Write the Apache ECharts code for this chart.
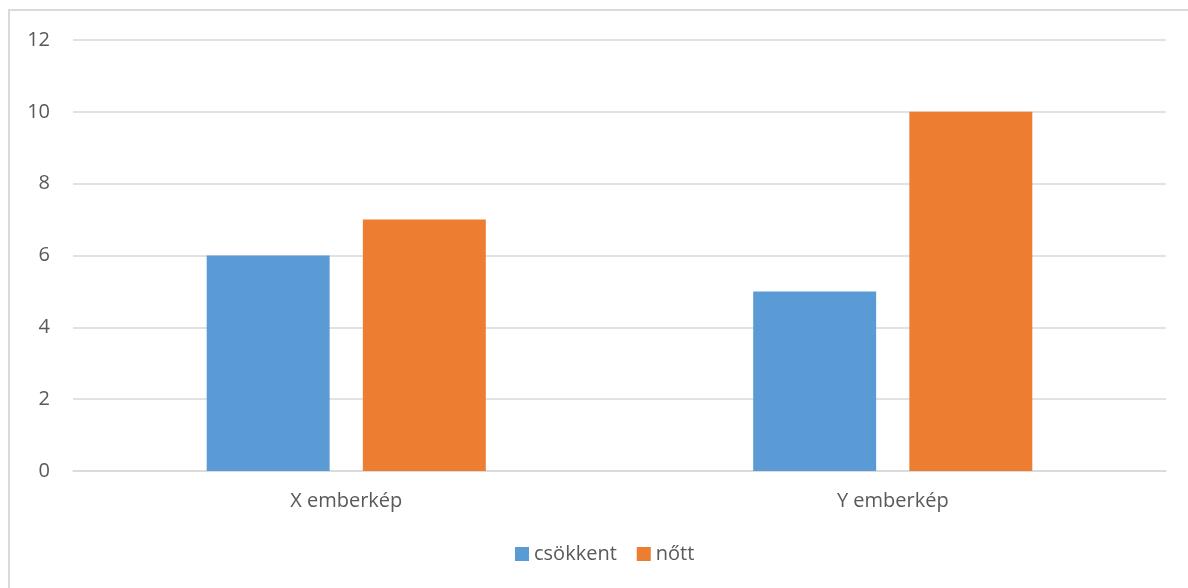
<!DOCTYPE html>
<html><head><meta charset="utf-8">
<script src="https://cdn.jsdelivr.net/npm/echarts@6/dist/echarts.min.js"></script>
<style>html,body{margin:0;padding:0;background:#fff;}#c{width:1188px;height:588px;}
#frame{position:absolute;left:8px;top:9px;width:1200px;height:600px;border-left:2px solid #d9d9d9;border-top:2px solid #d9d9d9;pointer-events:none;}</style>
</head><body><div id="c"></div><div id="frame"></div>
<script>
const categories = ['X emberkép', 'Y emberkép'];
const seriesNames = ['csökkent', 'nőtt'];
const csokkent = [6, 5];
const nott = [7, 10];
const yTicks = {min: 0, max: 12, interval: 2};

const font = '"Open Sans", sans-serif';
const fs = 20;
const chart = echarts.init(document.getElementById('c'), null, {renderer: 'canvas'});
chart.setOption({
  animation: false,
  textStyle: {fontFamily: font},
  grid: {left: 73, right: 22, top: 40, bottom: 117},
  legend: {
    bottom: 19, left: 510, itemWidth: 14, itemHeight: 14, itemGap: 20,
    icon: 'rect',
    textStyle: {fontSize: fs, color: '#595959', fontFamily: font},
    data: seriesNames
  },
  xAxis: {
    type: 'category', data: categories,
    axisLine: {lineStyle: {color: '#d9d9d9', width: 1.5}},
    axisTick: {show: false},
    axisLabel: {fontSize: fs, color: '#595959', margin: 20, fontFamily: font}
  },
  yAxis: {
    type: 'value', min: yTicks.min, max: yTicks.max, interval: yTicks.interval,
    axisLine: {show: false}, axisTick: {show: false},
    splitLine: {lineStyle: {color: '#d9d9d9', width: 1.5}},
    axisLabel: {fontSize: fs, color: '#595959', margin: 23, fontFamily: font}
  },
  series: [
    {name: seriesNames[0], type: 'bar', data: csokkent, barWidth: '22.5%', barGap: '27%', itemStyle: {color: '#5b9bd5'}},
    {name: seriesNames[1], type: 'bar', data: nott, barWidth: '22.5%', barGap: '27%', itemStyle: {color: '#ed7d31'}}
  ]
});
</script></body></html>
